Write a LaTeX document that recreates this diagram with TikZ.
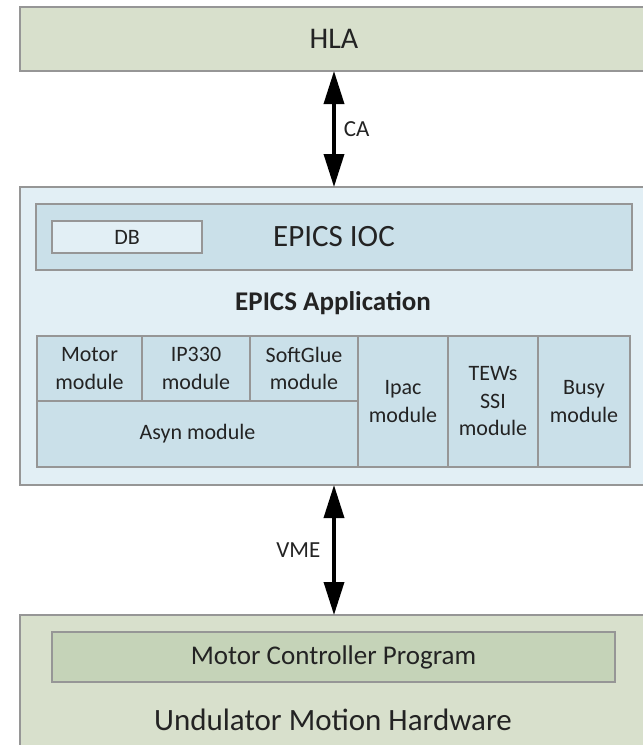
\documentclass[tikz,border=0pt]{standalone}
\usepackage{fontspec}
\setmainfont{Carlito}
\usetikzlibrary{arrows.meta, positioning}
\usepackage{xcolor}

\definecolor{hlagreen}{RGB}{216,224,204}
\definecolor{mcpgreen}{RGB}{197,211,184}
\definecolor{paleblue}{RGB}{226,239,245}
\definecolor{modblue}{RGB}{202,224,233}
\definecolor{edgegray}{RGB}{150,150,150}
\definecolor{inkgray}{RGB}{35,35,35}

\newcommand{\modfont}{\fontsize{22}{27.5}\selectfont}
\newcommand{\bigfont}{\fontsize{31}{37}\selectfont}

\tikzset{
    layer/.style={draw=edgegray, line width=1.2pt, inner sep=0pt, outer sep=0pt, text=inkgray},
    module/.style={layer, fill=modblue, align=center, font=\modfont},
    link/.style={{Triangle[length=33pt, width=20pt]}-{Triangle[length=33pt, width=20pt]}, line width=3.5pt, black},
    linklabel/.style={inner sep=0pt, text=inkgray, font=\fontsize{23}{27}\selectfont}
}

\begin{document}
\begin{tikzpicture}[x=1pt, y=-1pt]
    \useasboundingbox (0,0) rectangle (643,745);
    \clip (0,0) rectangle (643,745);

    % HLA layer
    \node[layer, fill=hlagreen, minimum width=628pt, minimum height=64pt, font=\fontsize{30}{36}\selectfont] (hla) at (334,39) {HLA};

    % EPICS layer
    \node[layer, fill=paleblue, minimum width=628pt, minimum height=298pt] (epics) at (334,336) {};
    \node[layer, fill=modblue, minimum width=596pt, minimum height=66pt, font=\bigfont] (ioc) at (334,237) {EPICS IOC};
    \node[layer, fill=paleblue, minimum width=150pt, minimum height=32pt, font=\modfont] (db) at (127,237) {DB};
    \node[text=inkgray, font=\fontsize{27}{32}\selectfont\bfseries] (app) at (333,303) {EPICS Application};

    % modules
    \node[module, minimum width=105pt, minimum height=65pt] (motor) at (89.5,368.5) {Motor\\module};
    \node[module, minimum width=108pt, minimum height=65pt] (ip330) at (196,368.5) {IP330\\module};
    \node[module, minimum width=108pt, minimum height=65pt] (softglue) at (304,368.5) {SoftGlue\\module};
    \node[module, minimum width=321pt, minimum height=66pt] (asyn) at (197.5,434) {Asyn module};
    \node[module, minimum width=90pt, minimum height=131pt] (ipac) at (403,401.5) {Ipac\\module};
    \node[module, minimum width=90pt, minimum height=131pt] (tews) at (493,401.5) {TEWs\\SSI\\module};
    \node[module, minimum width=92pt, minimum height=131pt] (busy) at (584,401.5) {Busy\\module};

    % hardware layer
    \node[layer, fill=hlagreen, minimum width=628pt, minimum height=160pt] (hw) at (334,695) {};
    \node[layer, fill=mcpgreen, minimum width=563pt, minimum height=50pt, font=\fontsize{27}{32}\selectfont] (mcp) at (333.5,657) {Motor Controller Program};
    \node[text=inkgray, font=\bigfont] (hwlabel) at (333,720) {Undulator Motion Hardware};

    % links
    \draw[link] (hla.south) -- (epics.north) node[midway, right=8pt, linklabel] {CA};
    \draw[link] (epics.south) -- (hw.north) node[midway, left=12pt, linklabel] {VME};
\end{tikzpicture}
\end{document}
